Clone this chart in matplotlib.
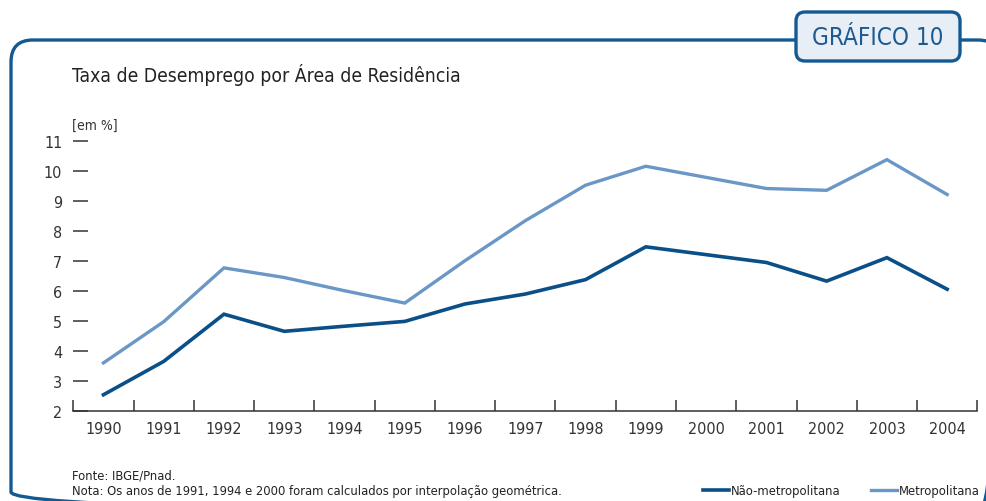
import matplotlib
matplotlib.use("Agg")
import matplotlib.pyplot as plt
from matplotlib.patches import FancyBboxPatch
import numpy as np

plt.rcParams['font.family'] = ['DejaVu Sans']
plt.rcParams['font.stretch'] = 'condensed'

# data
years = ["1990", "1991", "1992", "1993", "1994", "1995", "1996", "1997",
         "1998", "1999", "2000", "2001", "2002", "2003", "2004"]
nao_metro = [2.55, 3.66, 5.23, 4.66, 4.83, 4.99, 5.57, 5.90,
             6.38, 7.47, 7.21, 6.95, 6.33, 7.11, 6.06]
metro = [3.61, 4.98, 6.77, 6.45, 6.01, 5.60, 7.01, 8.34,
         9.52, 10.15, 9.78, 9.41, 9.35, 10.37, 9.21]
y_ticks = [2, 3, 4, 5, 6, 7, 8, 9, 10, 11]

DARK = "#0b4f88"
LIGHT = "#6a97c6"
FRAME = "#135a93"
TXT = "#333333"

W, H = 986, 502
fig = plt.figure(figsize=(W / 100, H / 100), dpi=100)

# background layer in pixel units for the frame and badge
bg = fig.add_axes([0, 0, 1, 1])
bg.set_xlim(0, W)
bg.set_ylim(H, 0)
bg.axis("off")

frame = FancyBboxPatch((11, 41), 1000 - 11, 515 - 41,
                       boxstyle="round,pad=0,rounding_size=22",
                       fill=False, edgecolor=FRAME, linewidth=2.4, clip_on=False)
bg.add_patch(frame)
badge = FancyBboxPatch((796, 13), 164, 49,
                       boxstyle="round,pad=0,rounding_size=9",
                       facecolor="#e8eef6", edgecolor=FRAME, linewidth=2.4,
                       zorder=3, clip_on=False)
bg.add_patch(badge)
bg.text(878, 38, "GRÁFICO 10", ha="center", va="center", fontsize=17.4,
        color="#1d5a8f", zorder=4)

bg.text(72, 75, "Taxa de Desemprego por Área de Residência", ha="left", va="center",
        fontsize=13.9, color="#222222")
bg.text(72, 126, "[em %]", ha="left", va="center", fontsize=10, color=TXT)
bg.text(72, 476, "Fonte: IBGE/Pnad.", ha="left", va="center", fontsize=9.3, color="#222222")
bg.text(72, 492, "Nota: Os anos de 1991, 1994 e 2000 foram calculados por interpolação geométrica.",
        ha="left", va="center", fontsize=9.3, color="#222222")

# main chart
x = np.arange(len(years))
ax = fig.add_axes([73.3 / W, 1 - 412.3 / H, (977.3 - 73.3) / W, (412.3 - 141.7) / H])
ax.set_facecolor("none")
l1, = ax.plot(x, nao_metro, color=DARK, linewidth=2.6, solid_joinstyle="miter",
              label="Não-metropolitana")
l2, = ax.plot(x, metro, color=LIGHT, linewidth=2.4, solid_joinstyle="miter",
              label="Metropolitana")

ax.set_xlim(-0.5, len(years) - 0.5)
ax.set_ylim(2, 11)

for s in ["left", "right", "top"]:
    ax.spines[s].set_visible(False)
ax.spines["bottom"].set_color(TXT)
ax.spines["bottom"].set_linewidth(1.1)

ax.set_yticks(y_ticks)
ax.set_yticklabels([str(v) for v in y_ticks])
ax.tick_params(axis="y", direction="in", length=10.8, width=1.1, color=TXT,
               pad=8, labelsize=11.5, labelcolor=TXT)

ax.set_xticks(np.arange(-0.5, len(years), 1.0))
ax.set_xticklabels([])
ax.set_xticks(x, minor=True)
ax.set_xticklabels(years, minor=True)
ax.tick_params(axis="x", which="major", direction="in", length=7.7, width=1.1, color=TXT)
ax.tick_params(axis="x", which="minor", length=0, pad=7, labelsize=11.5, labelcolor=TXT)

fig.legend(handles=[l1, l2], loc="center right",
           bbox_to_anchor=(980 / W, 1 - 492 / H), ncol=2, frameon=False,
           fontsize=9.3, handlelength=2.0, handletextpad=0.2, columnspacing=2.3,
           borderpad=0, borderaxespad=0, labelcolor="#222222")

plt.savefig("out.png", dpi=100)
